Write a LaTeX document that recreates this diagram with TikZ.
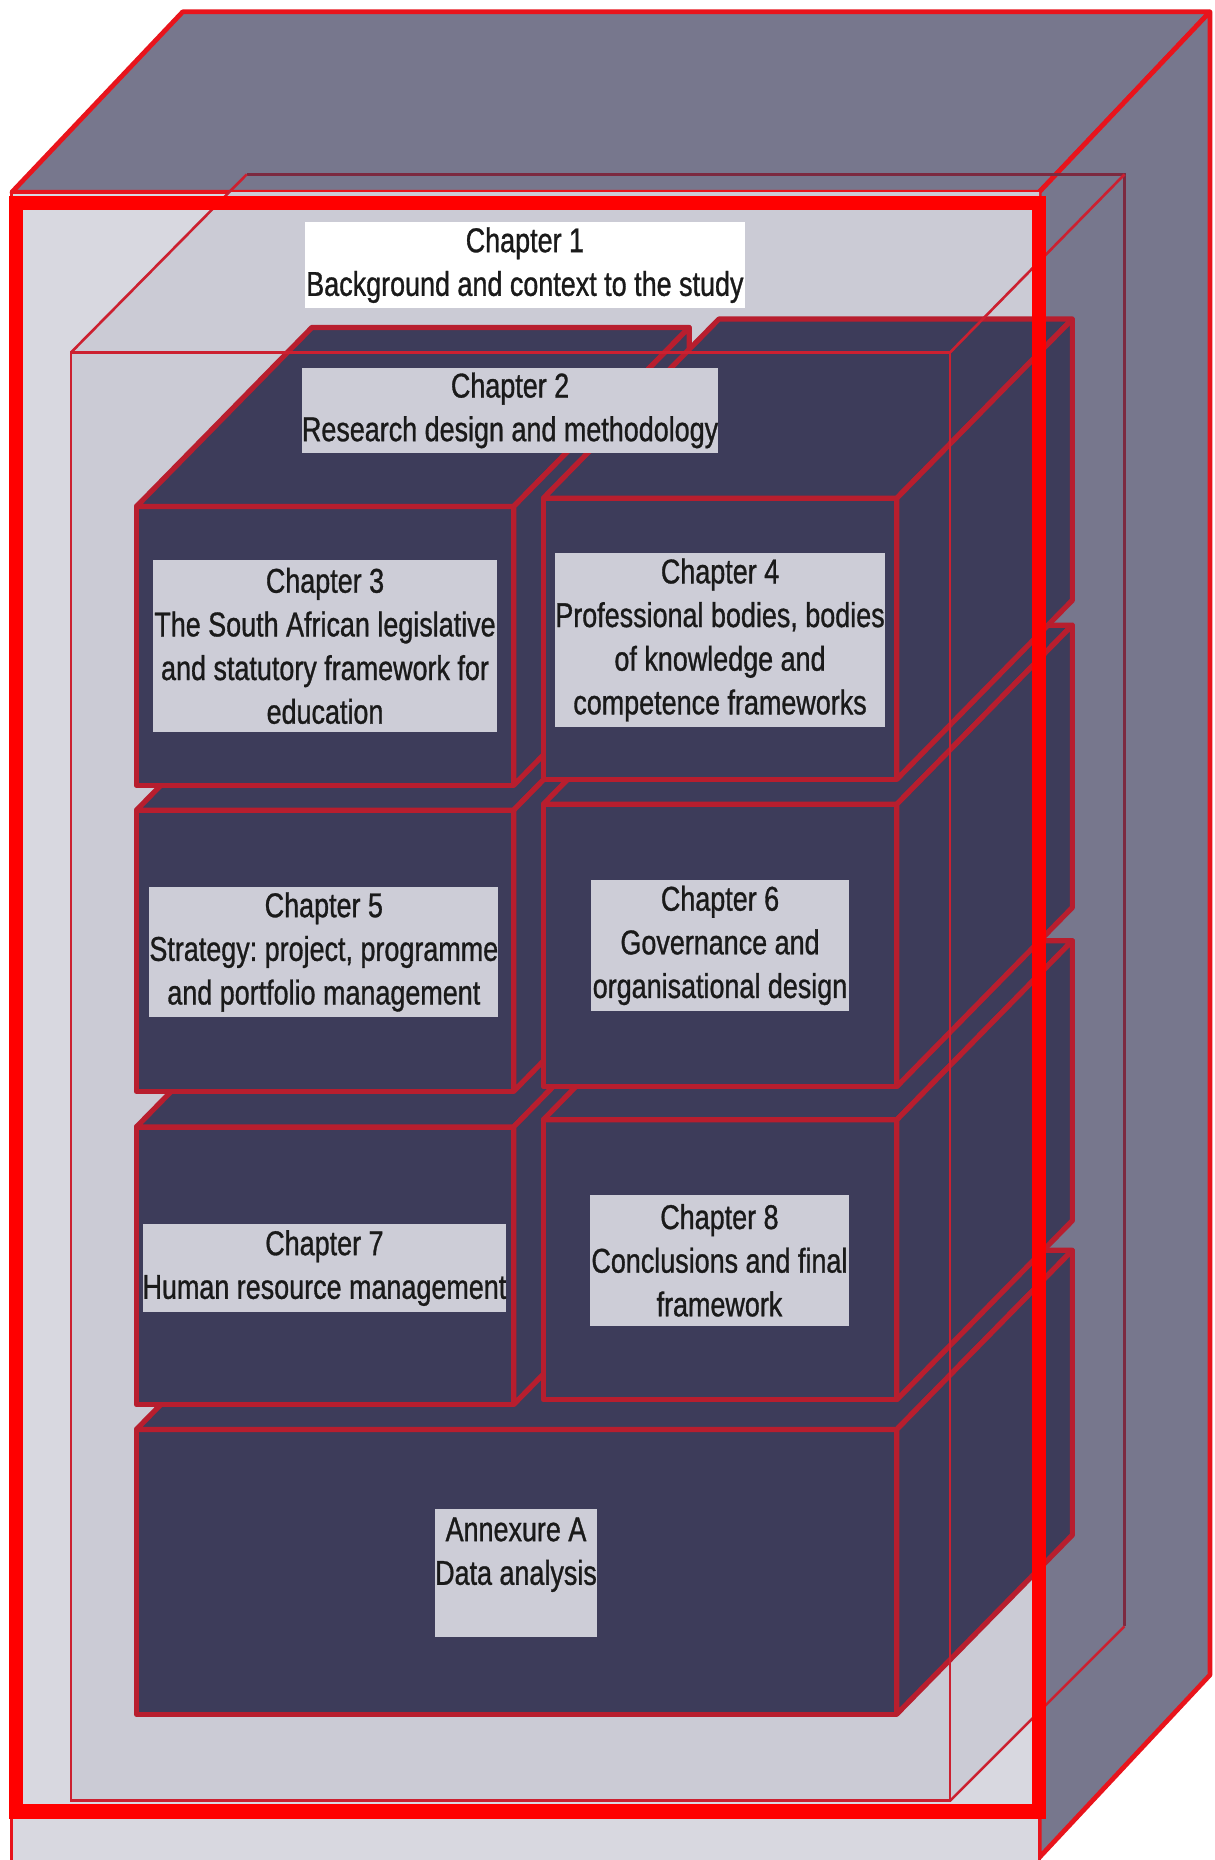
\documentclass[tikz,border=0pt]{standalone}
\usepackage{fontspec}
\setmainfont{Liberation Sans}[FakeStretch=0.783,FakeBold=0.9]
\frenchspacing
\definecolor{outergray}{HTML}{77778D}
\definecolor{frontlight}{HTML}{D8D8E0}
\definecolor{innerfill}{HTML}{CBCBD5}
\definecolor{navy}{HTML}{3D3C5A}
\definecolor{blkred}{HTML}{B81E2E}
\definecolor{edgered}{HTML}{E8141C}
\definecolor{innerred}{HTML}{CC2030}
\definecolor{maroon}{HTML}{7C2A40}
\definecolor{labgray}{HTML}{CDCDD7}
\definecolor{txt}{HTML}{1A1A1A}
\newcommand{\blockcube}[4]{%
  \filldraw[blkstyle] (#1,#2) rectangle (#3,#4);
  \filldraw[blkstyle] (#1,#2) -- (#1+148,#2-151) -- (#3+148,#2-151) -- (#3,#2) -- cycle;
  \filldraw[blkstyle] (#3,#2) -- (#3+148,#2-151) -- (#3+148,#4-151) -- (#3,#4) -- cycle;
}
\begin{document}
\begin{tikzpicture}[x=0.5pt,y=-0.5pt,
  blkstyle/.style={fill=navy,draw=blkred,line width=2.2pt,line join=round},
  outerface/.style={fill=outergray,draw=edgered,line width=2pt,line join=round},
  lab/.style={fill=labgray,inner sep=0pt,align=center,text=txt,
    font=\fontsize{14.5}{18.4}\selectfont},
  inneredge/.style={draw=innerred,line width=1.1pt},
  backedge/.style={draw=maroon,line width=1.2pt}]
\useasboundingbox (0,0) rectangle (1024,1568);
% outer box
\filldraw[outerface] (10,162) -- (154,10) -- (1020,10) -- (876,162) -- cycle;
\filldraw[outerface] (876,162) -- (1020,10) -- (1020,1412) -- (876,1566) -- cycle;
\filldraw[fill=frontlight,draw=edgered,line width=1.2pt] (10,162) rectangle (876,1580);
% inner box fill
\begin{scope}
  \clip (10,162) rectangle (876,1580);
  \fill[innerfill] (60,1518) -- (60,297) -- (208,147) -- (948,147) -- (948,1371) -- (801,1518) -- cycle;
\end{scope}
% blocks, back to front
\blockcube{115}{1205}{756}{1445}
\blockcube{115}{950}{433}{1184}
\blockcube{458}{944}{756}{1180}
\blockcube{115}{683}{433}{920}
\blockcube{458}{678}{756}{916}
\blockcube{115}{427}{433}{662}
\blockcube{458}{420}{756}{657}
% inner box edges
\draw[backedge] (208,147) -- (948,147) -- (948,1371);
\draw[inneredge] (60,297) rectangle (801,1518);
\draw[inneredge] (60,297) -- (208,147);
\draw[inneredge] (801,297) -- (948,147);
\draw[inneredge] (801,1518) -- (948,1371);
% labels
\node[lab,fill=white,minimum width=185.5pt,minimum height=36.5pt] (c1) at (442.5,223.5)
  {Chapter 1\\Background and context to the study};
\node[lab,minimum width=175pt,minimum height=36pt] (c2) at (430,346)
  {Chapter 2\\Research design and methodology};
\node[lab,minimum width=145pt,minimum height=72.5pt] (c3) at (274,544.5)
  {Chapter 3\\The South African legislative\\and statutory framework for\\education};
\node[lab,minimum width=139pt,minimum height=73.5pt] (c4) at (607,539.5)
  {Chapter 4\\Professional bodies, bodies\\of knowledge and\\competence frameworks};
\node[lab,minimum width=147pt,minimum height=54.5pt] (c5) at (273,802.5)
  {Chapter 5\\Strategy: project, programme\\and portfolio management};
\node[lab,minimum width=109pt,minimum height=55pt] (c6) at (607,797)
  {Chapter 6\\Governance and\\organisational design};
\node[lab,minimum width=151.5pt,minimum height=37pt] (c7) at (273.5,1069)
  {Chapter 7\\Human resource management};
\node[lab,minimum width=109.5pt,minimum height=55.5pt] (c8) at (606.5,1062.5)
  {Chapter 8\\Conclusions and final\\framework};
\node[lab,minimum width=67pt,minimum height=54pt] (ax) at (435,1326)
  {Annexure A\\Data analysis\\\mbox{}};
% thick front frame
\draw[draw=red,line width=6pt] (13.5,171) rectangle (876,1527);
\end{tikzpicture}
\end{document}
